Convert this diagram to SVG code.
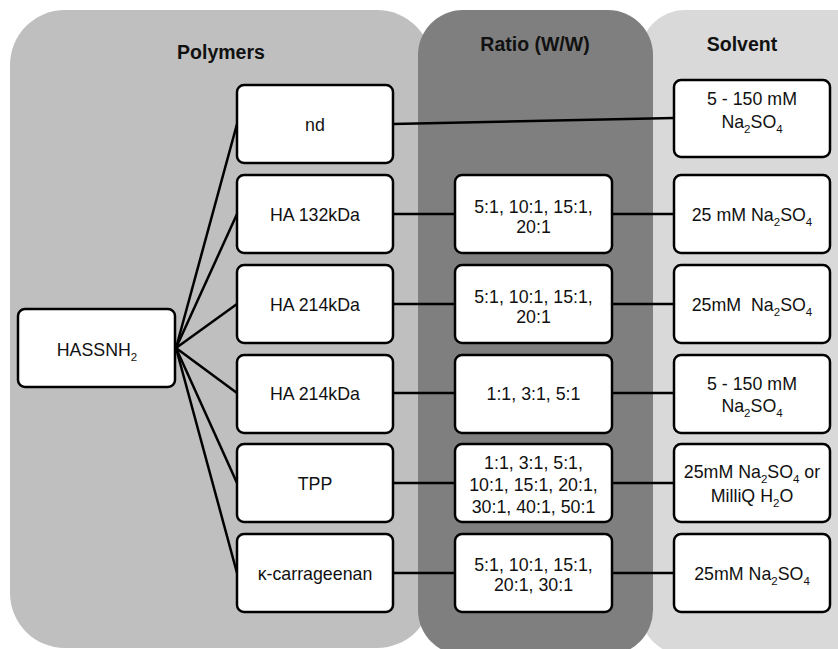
<svg xmlns="http://www.w3.org/2000/svg" width="838" height="649" viewBox="0 0 838 649">
<defs>
<style>
.panel-p{fill:#bfbfbf}
.panel-r{fill:#7f7f7f}
.panel-s{fill:#d9d9d9}
.box{fill:#fff;stroke:#000;stroke-width:2.5}
.t{font-family:"Liberation Sans",Arial,sans-serif;font-size:17.8px;fill:#111;text-anchor:middle}
.h{font-family:"Liberation Sans",Arial,sans-serif;font-size:19.5px;font-weight:bold;fill:#111;text-anchor:middle}
.sub{font-size:11.5px}
.c{stroke:#000;stroke-width:2.5;fill:none}
</style>
</defs>
<rect width="838" height="649" fill="#fff"/>
<g id="panels">
<rect class="panel-p" x="10" y="10" width="422" height="638" rx="55"/>
<rect class="panel-s" x="640" y="10" width="240" height="645" rx="45"/>
<rect class="panel-r" x="418" y="10" width="235" height="645" rx="45"/>
<text class="h" x="221" y="59">Polymers</text>
<text class="h" x="535" y="51">Ratio (W/W)</text>
<text class="h" x="742" y="51">Solvent</text>
</g>
<g id="connectors">
<line class="c" x1="176" y1="348" x2="237" y2="124"/>
<line class="c" x1="176" y1="348" x2="237" y2="214"/>
<line class="c" x1="176" y1="348" x2="237" y2="304"/>
<line class="c" x1="176" y1="348" x2="237" y2="393"/>
<line class="c" x1="176" y1="348" x2="237" y2="483"/>
<line class="c" x1="176" y1="348" x2="237" y2="573"/>
<line class="c" x1="393" y1="124" x2="674" y2="118"/>
<line class="c" x1="393" y1="214" x2="455" y2="214"/>
<line class="c" x1="612" y1="214" x2="674" y2="214"/>
<line class="c" x1="393" y1="304" x2="455" y2="304"/>
<line class="c" x1="612" y1="304" x2="674" y2="304"/>
<line class="c" x1="393" y1="393" x2="455" y2="393"/>
<line class="c" x1="612" y1="393" x2="674" y2="393"/>
<line class="c" x1="393" y1="483" x2="455" y2="483"/>
<line class="c" x1="612" y1="483" x2="674" y2="483"/>
<line class="c" x1="393" y1="573" x2="455" y2="573"/>
<line class="c" x1="612" y1="573" x2="674" y2="573"/>
</g>
<g id="hassnh2">
<rect class="box" x="18" y="309" width="157" height="78" rx="7"/>
<text class="t" x="97" y="356">HASSNH<tspan class="sub" dy="4.5">2</tspan></text>
</g>
<g id="p-nd">
<rect class="box" x="237" y="85" width="156" height="78" rx="7"/>
<text class="t" x="315" y="131">nd</text>
</g>
<g id="p-ha132">
<rect class="box" x="237" y="175" width="156" height="78" rx="7"/>
<text class="t" x="315" y="221">HA 132kDa</text>
</g>
<g id="p-ha214a">
<rect class="box" x="237" y="265" width="156" height="78" rx="7"/>
<text class="t" x="315" y="311">HA 214kDa</text>
</g>
<g id="p-ha214b">
<rect class="box" x="237" y="355" width="156" height="78" rx="7"/>
<text class="t" x="315" y="400">HA 214kDa</text>
</g>
<g id="p-tpp">
<rect class="box" x="237" y="444" width="156" height="78" rx="7"/>
<text class="t" x="315" y="490">TPP</text>
</g>
<g id="p-kcar">
<rect class="box" x="237" y="534" width="156" height="78" rx="7"/>
<text class="t" x="315" y="580">κ-carrageenan</text>
</g>
<g id="r-ha132">
<rect class="box" x="455" y="175" width="157" height="78" rx="7"/>
<text class="t" x="533.5" y="213">5:1, 10:1, 15:1,</text>
<text class="t" x="533.5" y="233">20:1</text>
</g>
<g id="r-ha214a">
<rect class="box" x="455" y="265" width="157" height="78" rx="7"/>
<text class="t" x="533.5" y="303">5:1, 10:1, 15:1,</text>
<text class="t" x="533.5" y="323">20:1</text>
</g>
<g id="r-ha214b">
<rect class="box" x="455" y="355" width="157" height="78" rx="7"/>
<text class="t" x="533.5" y="400">1:1, 3:1, 5:1</text>
</g>
<g id="r-tpp">
<rect class="box" x="455" y="444" width="157" height="78" rx="7"/>
<text class="t" x="533.5" y="469">1:1, 3:1, 5:1,</text>
<text class="t" x="533.5" y="491">10:1, 15:1, 20:1,</text>
<text class="t" x="533.5" y="513">30:1, 40:1, 50:1</text>
</g>
<g id="r-kcar">
<rect class="box" x="455" y="534" width="157" height="78" rx="7"/>
<text class="t" x="533.5" y="571">5:1, 10:1, 15:1,</text>
<text class="t" x="533.5" y="591">20:1, 30:1</text>
</g>
<g id="s-nd">
<rect class="box" x="674" y="80" width="156" height="77" rx="7"/>
<text class="t" x="752" y="105">5 - 150 mM</text>
<text class="t" x="752" y="128">Na<tspan class="sub" dy="4.5">2</tspan><tspan dy="-4.5">SO</tspan><tspan class="sub" dy="4.5">4</tspan></text>
</g>
<g id="s-ha132">
<rect class="box" x="674" y="175" width="156" height="78" rx="7"/>
<text class="t" x="752" y="221">25 mM Na<tspan class="sub" dy="4.5">2</tspan><tspan dy="-4.5">SO</tspan><tspan class="sub" dy="4.5">4</tspan></text>
</g>
<g id="s-ha214a">
<rect class="box" x="674" y="265" width="156" height="78" rx="7"/>
<text class="t" x="752" y="311" xml:space="preserve">25mM  Na<tspan class="sub" dy="4.5">2</tspan><tspan dy="-4.5">SO</tspan><tspan class="sub" dy="4.5">4</tspan></text>
</g>
<g id="s-ha214b">
<rect class="box" x="674" y="355" width="156" height="78" rx="7"/>
<text class="t" x="752" y="390">5 - 150 mM</text>
<text class="t" x="752" y="412">Na<tspan class="sub" dy="4.5">2</tspan><tspan dy="-4.5">SO</tspan><tspan class="sub" dy="4.5">4</tspan></text>
</g>
<g id="s-tpp">
<rect class="box" x="674" y="444" width="156" height="78" rx="7"/>
<text class="t" x="752" y="478">25mM Na<tspan class="sub" dy="4.5">2</tspan><tspan dy="-4.5">SO</tspan><tspan class="sub" dy="4.5">4</tspan><tspan dy="-4.5"> or</tspan></text>
<text class="t" x="752" y="502">MilliQ H<tspan class="sub" dy="4.5">2</tspan><tspan dy="-4.5">O</tspan></text>
</g>
<g id="s-kcar">
<rect class="box" x="674" y="534" width="156" height="78" rx="7"/>
<text class="t" x="752" y="580">25mM Na<tspan class="sub" dy="4.5">2</tspan><tspan dy="-4.5">SO</tspan><tspan class="sub" dy="4.5">4</tspan></text>
</g>
</svg>
